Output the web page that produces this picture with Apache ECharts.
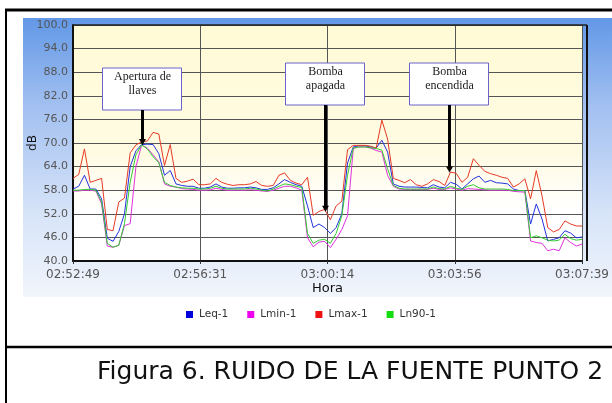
<!DOCTYPE html>
<html><head><meta charset="utf-8">
<script src="https://cdn.jsdelivr.net/npm/echarts@6/dist/echarts.min.js"></script>
<style>html,body{margin:0;padding:0;background:#fff;overflow:hidden}#c{width:612px;height:403px;}</style>
</head><body><div id="c"></div>
<script>
// ---- data ----
const startClock = '02:52:49';
const stepSeconds = 10;
const xTickLabels = ['02:52:49', '02:56:31', '03:00:14', '03:03:56', '03:07:39'];
const seriesNames = ['Leq-1', 'Lmin-1', 'Lmax-1', 'Ln90-1'];
const leq = [
  58.3, 59, 61.8, 58.3, 58.3, 55.8, 45.8, 45, 47.5, 52,
  64, 68, 69.6, 69.7, 69.6, 67.3, 61.8, 63, 59.6, 59.2,
  59, 59, 58.5, 58.5, 58.8, 59.6, 58.8, 58.5, 58.5, 58.6,
  58.6, 58.8, 58.6, 58.2, 58.2, 58.6, 59.6, 60.7, 60, 59.4,
  59, 54, 48.5, 49.4, 48.5, 47, 48.5, 52, 64.9, 69,
  69.3, 69.3, 69, 68.7, 70.7, 67.7, 59.6, 59, 58.8, 58.8,
  58.8, 58.7, 58.6, 59.4, 58.8, 58.6, 60, 59.5, 58.3, 59.6,
  60.9, 61.6, 60, 60.5, 59.9, 59.8, 59.6, 58.3, 57.9, 57.9,
  49.4, 54.5, 50.7, 45.1, 45.5, 45.9, 47.7, 47.1, 45.9, 46.1
];
const lmin = [
  57.8, 57.8, 58, 58, 57.8, 54.5, 43.8, 43.5, 44, 49,
  49.5, 64, 69.5, 68.7, 67, 65.2, 59.6, 59, 58.8, 58.4,
  58.3, 58.2, 58, 58, 58.1, 58.5, 58.2, 58, 58, 58,
  58, 58.1, 58, 57.8, 57.7, 58, 58.5, 59, 59, 58.6,
  58, 45.9, 43.6, 44.8, 45, 43.4, 45.5, 48, 51.5, 68.6,
  69, 69, 68.7, 68.1, 67.7, 61.8, 59, 58.3, 58.2, 58.2,
  58.2, 58.2, 58.2, 58.5, 58.2, 58.2, 58.6, 58.3, 58, 58.4,
  58.3, 58.2, 58.1, 58, 58, 58, 58, 57.7, 57.6, 57.5,
  45.1, 44.7, 44.5, 42.6, 43, 42.6, 45.9, 44.7, 43.8, 44.3
];
const lmax = [
  61, 62, 68.5, 60, 60.5, 61, 48, 47.7, 55, 56,
  67.5, 69.5, 70.3, 70.5, 72.7, 72.3, 64.3, 69.6, 61, 60,
  60.3, 60.8, 59.4, 59.4, 59.6, 61, 60, 59.5, 59.2, 59.4,
  59.4, 59.6, 60.2, 59.2, 59, 59.2, 61.8, 62.4, 60.5, 59.8,
  59.4, 61.3, 51.6, 52.6, 53.1, 50.5, 54, 55.2, 68.3, 69.4,
  69.4, 69.4, 69.2, 68.7, 75.8, 71, 61, 60.5, 59.9, 60.7,
  59.4, 59, 59.6, 60.7, 60.2, 59.2, 62.6, 62.3, 60, 61.3,
  66, 64.3, 62.8, 62.2, 61.8, 61.3, 61, 58.8, 59.6, 60.9,
  55.8, 63, 56.6, 48.5, 47.4, 48, 50.2, 49.4, 48.9, 48.9
];
const ln90 = [
  58, 58, 58.2, 58.2, 58, 55, 44.5, 43.5, 44, 49.5,
  60, 67, 69.5, 68.5, 66.5, 65, 60, 59.2, 58.8, 58.6,
  58.5, 58.5, 58.3, 58.3, 58.5, 59, 58.5, 58.3, 58.3, 58.3,
  58.3, 58.5, 58.3, 58, 57.8, 58.3, 59, 59.6, 59.4, 59,
  58.7, 47, 44.5, 45.3, 45.5, 44.5, 47, 51.5, 61.8, 68.7,
  69, 69, 68.8, 68.6, 68.2, 63.5, 59.2, 58.5, 58.3, 58.3,
  58.3, 58.3, 58.3, 58.8, 58.4, 58.3, 59, 58.5, 58.2, 59,
  59.4, 58.6, 58.3, 58.3, 58.3, 58.3, 58.2, 57.9, 57.9, 57.9,
  45.9, 46.4, 45.9, 45.3, 45.1, 45.3, 46.8, 45.7, 45.3, 45.5
];
const annotTexts = [['Apertura de', 'llaves'], ['Bomba', 'apagada'], ['Bomba', 'encendida']];
const annotTimes = [121, 441, 658];   // seconds from start
const annotDb = [69.5, 52.5, 62.5];
const captionText = 'Figura 6. RUIDO DE LA FUENTE PUNTO 2';

// ---- chart ----
const colors = ['#2233dd', '#dd33dd', '#e63a26', '#33cc33'];
const legendColors = ['#0000dd', '#ee00ee', '#ee1111', '#11dd11'];
const allValues = [leq, lmin, lmax, ln90];
const times = leq.map((_, i) => i * stepSeconds);
const totalSeconds = times[times.length - 1];
const tickInterval = totalSeconds / (xTickLabels.length - 1);

const chart = echarts.init(document.getElementById('c'), null, {renderer: 'canvas'});
const LG = echarts.graphic.LinearGradient;

const option = {
  animation: false,
  color: colors,
  grid: {
    left: 73, top: 25, right: 25, bottom: 142,
    show: true, borderWidth: 0,
    backgroundColor: new LG(0, 0, 0, 1, [
      {offset: 0, color: '#fffbd6'},
      {offset: 0.55, color: '#fffbe3'},
      {offset: 0.78, color: '#ffffff'},
      {offset: 1, color: '#ffffff'}
    ])
  },
  legend: {
    data: seriesNames.map((n, i) => ({name: n, itemStyle: {color: legendColors[i]}})),
    left: 181, top: 304,
    icon: 'rect', itemWidth: 7, itemHeight: 7, itemGap: 19,
    textStyle: {fontFamily: 'DejaVu Sans', fontSize: 10.5, color: '#333', padding: [0, 0, 0, 1]}
  },
  xAxis: {
    type: 'value', min: 0, max: totalSeconds, interval: tickInterval,
    name: 'Hora', nameLocation: 'middle', nameGap: 21, nameMoveOverlap: false,
    nameTextStyle: {fontFamily: 'DejaVu Sans', fontSize: 13, color: '#111'},
    axisLine: {show: true, lineStyle: {color: '#111', width: 2}},
    axisTick: {show: true, length: 3, lineStyle: {color: '#333'}},
    axisLabel: {
      fontFamily: 'DejaVu Sans', fontSize: 12, color: '#555', margin: 8,
      alignMinLabel: 'center', alignMaxLabel: 'center',
      formatter: v => xTickLabels[Math.round(v / tickInterval)] || ''
    },
    splitLine: {show: true, lineStyle: {color: '#555', width: 1}}
  },
  yAxis: {
    type: 'value', min: 40, max: 100, interval: 6,
    name: 'dB', nameLocation: 'middle', nameGap: 34, nameRotate: 90, nameMoveOverlap: false,
    nameTextStyle: {fontFamily: 'DejaVu Sans', fontSize: 12, color: '#111'},
    axisLine: {show: true, lineStyle: {color: '#111', width: 2}},
    axisTick: {show: false},
    axisLabel: {
      fontFamily: 'DejaVu Sans', fontSize: 11, color: '#555', margin: 5,
      formatter: v => v.toFixed(1)
    },
    splitLine: {show: true, lineStyle: {color: '#555', width: 1}}
  },
  series: seriesNames.map((n, i) => ({
    name: n, type: 'line', symbol: 'none', smooth: false,
    lineStyle: {width: 1, color: colors[i]},
    itemStyle: {color: legendColors[i]},
    data: allValues[i].map((v, k) => [times[k], v]),
    z: 3
  }))
};
chart.setOption(option);

// ---- decoration graphics ----
const g = [];
g.push({type: 'rect', z: -10, shape: {x: 23, y: 18, width: 590, height: 279},
  style: {fill: new LG(0, 0, 0, 1, [
    {offset: 0, color: '#6298e6'}, {offset: 0.3, color: '#9fbef0'},
    {offset: 0.7, color: '#d7e4f8'}, {offset: 1, color: '#f1f5fc'}])}});
// plot right + top frame
g.push({type: 'line', z: 5, shape: {x1: 587, y1: 25, x2: 587, y2: 261}, style: {stroke: '#111', lineWidth: 2}});
g.push({type: 'line', z: 5, shape: {x1: 73, y1: 25, x2: 587, y2: 25}, style: {stroke: '#222', lineWidth: 1.5}});
// outer frame
g.push({type: 'line', z: 10, shape: {x1: 5, y1: 10, x2: 612, y2: 10}, style: {stroke: '#000', lineWidth: 3}});
g.push({type: 'line', z: 10, shape: {x1: 6, y1: 9, x2: 6, y2: 403}, style: {stroke: '#000', lineWidth: 2}});
g.push({type: 'line', z: 10, shape: {x1: 6, y1: 347, x2: 612, y2: 347}, style: {stroke: '#000', lineWidth: 2.5}});
g.push({type: 'text', z: 10, style: {x: 97, y: 372, text: captionText, fill: '#111',
  font: '25px "DejaVu Sans"', textVerticalAlign: 'middle'}});

// annotations anchored to data coordinates
const boxTops = [68, 63, 63];
annotTimes.forEach((t, i) => {
  const p = chart.convertToPixel({gridIndex: 0}, [t, annotDb[i]]);
  const cx = Math.round(p[0]) + 0.5;
  const bx = cx - 40, by = boxTops[i], bw = 79, bh = 42;
  g.push({type: 'rect', z: 20, shape: {x: bx, y: by, width: bw, height: bh},
    style: {fill: '#ffffff', stroke: '#6b63c9', lineWidth: 1}});
  annotTexts[i].forEach((line, k) => {
    g.push({type: 'text', z: 21, style: {x: cx, y: by + 9 + k * 14, text: line, fill: '#222',
      font: '12px "Liberation Serif"', textAlign: 'center', textVerticalAlign: 'middle'}});
  });
  g.push({type: 'line', z: 20, shape: {x1: cx, y1: by + bh, x2: cx, y2: p[1] - 4},
    style: {stroke: '#000', lineWidth: 3}});
  g.push({type: 'polygon', z: 20, shape: {points: [[cx - 3.5, p[1] - 6], [cx + 3.5, p[1] - 6], [cx, p[1]]]},
    style: {fill: '#000'}});
});
chart.setOption({graphic: g});
</script></body></html>
